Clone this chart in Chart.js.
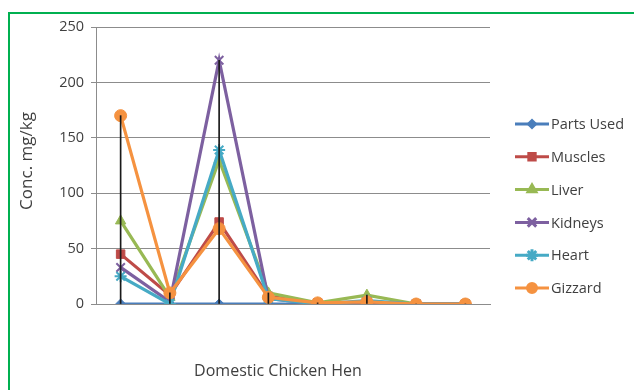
<!DOCTYPE html>
<html>
<head>
<meta charset="utf-8">
<script src="https://cdn.jsdelivr.net/npm/chart.js@4/dist/chart.umd.min.js"></script>
<style>
  html, body { margin: 0; padding: 0; background: #ffffff; }
  #wrap { width: 634px; height: 390px; }
</style>
</head>
<body>
<div id="wrap"><canvas id="c" width="634" height="390"></canvas></div>
<script>
// Sample positions along the hen (x labels are not printed on the axis)
const categories = ['1', '2', '3', '4', '5', '6', '7', '8'];

// Concentration, mg/kg
const partsUsed = [0, 0, 0, 0, 0, 0, 0, 0];
const muscles   = [45, 8, 74, 7, 1, 1, 0, 0];
const liver     = [75, 6, 130, 10, 1, 8, 0, 0];
const kidneys   = [33, 2, 220, 5, 0, 2, 0, 0];
const heart     = [25, 0, 139, 5, 0, 3, 0, 0];
const gizzard   = [170, 10, 68, 6, 1, 2, 0, 0];

const yTicks = [0, 50, 100, 150, 200, 250];

const seriesNames  = ['Parts Used', 'Muscles', 'Liver', 'Kidneys', 'Heart', 'Gizzard'];
const seriesValues = [partsUsed, muscles, liver, kidneys, heart, gizzard];
const seriesColors = ['#4A7EBB', '#BE4B48', '#98B954', '#7D60A0', '#46AAC5', '#F59240'];
const seriesMarks  = ['rectRot', 'rect', 'triangle', 'crossRot', 'star', 'circle'];
const seriesRadius = [5, 6, 6, 6, 6, 6];

// High-low lines: span of all series at each category
const highLow = categories.map((_, i) => {
  const vals = seriesValues.map(s => s[i]);
  return [Math.min(...vals), Math.max(...vals)];
});

const FONT = "'Open Sans', 'DejaVu Sans', sans-serif";
const TEXT = '#3f3f3f';

const strokeOnly = m => m === 'crossRot' || m === 'star';

const datasets = seriesNames.map((name, k) => ({
  type: 'line',
  label: name,
  data: seriesValues[k],
  borderColor: seriesColors[k],
  backgroundColor: seriesColors[k],
  borderWidth: 3.2,
  pointStyle: seriesMarks[k],
  pointRadius: seriesRadius[k],
  pointBorderWidth: strokeOnly(seriesMarks[k]) ? 2 : 1,
  pointBorderColor: seriesColors[k],
  pointBackgroundColor: seriesColors[k],
  tension: 0,
  order: seriesNames.length - k
}));

datasets.push({
  type: 'bar',
  label: 'High-Low',
  data: highLow,
  backgroundColor: '#1a1a1a',
  borderWidth: 0,
  barThickness: 1,
  order: 0
});

const decorations = {
  id: 'decorations',
  beforeDraw(chart) {
    const ctx = chart.ctx;
    ctx.save();
    ctx.fillStyle = '#ffffff';
    ctx.fillRect(0, 0, chart.width, chart.height);
    ctx.restore();
  },
  afterDraw(chart) {
    const ctx = chart.ctx;
    ctx.save();
    // frame
    ctx.strokeStyle = '#00B050';
    ctx.lineWidth = 2;
    ctx.beginPath();
    ctx.moveTo(9, 390);
    ctx.lineTo(9, 13);
    ctx.lineTo(634, 13);
    ctx.stroke();

    // axis titles
    ctx.fillStyle = TEXT;
    ctx.textAlign = 'center';
    ctx.textBaseline = 'middle';
    ctx.font = '16px ' + FONT;
    ctx.fillText('Domestic Chicken Hen', 278, 371);
    ctx.translate(27, 161);
    ctx.rotate(-Math.PI / 2);
    ctx.font = '17px ' + FONT;
    ctx.fillText('Conc. mg/kg', 0, 0);
    ctx.restore();

    // legend
    ctx.save();
    const x0 = 515, x1 = 549, yStart = 124, yStep = 32.8;
    seriesNames.forEach((name, k) => {
      const y = yStart + k * yStep;
      ctx.strokeStyle = seriesColors[k];
      ctx.lineWidth = 3;
      ctx.beginPath();
      ctx.moveTo(x0, y);
      ctx.lineTo(x1, y);
      ctx.stroke();
      ctx.fillStyle = seriesColors[k];
      ctx.strokeStyle = seriesColors[k];
      const m = seriesMarks[k];
      Chart.helpers.drawPoint(ctx, {
        pointStyle: m,
        radius: strokeOnly(m) ? seriesRadius[k] : seriesRadius[k] - 1.5,
        rotation: 0,
        borderWidth: strokeOnly(m) ? 1.6 : 1
      }, (x0 + x1) / 2, y);
      ctx.fillStyle = TEXT;
      ctx.font = '14.5px ' + FONT;
      ctx.textAlign = 'left';
      ctx.textBaseline = 'middle';
      ctx.fillText(name, x1 + 2, y + 1);
    });
    ctx.restore();
  }
};

new Chart(document.getElementById('c'), {
  data: { labels: categories, datasets },
  options: {
    responsive: false,
    animation: false,
    events: [],
    layout: { padding: { left: 0, top: 27, right: 144, bottom: 0 } },
    plugins: {
      legend: { display: false },
      tooltip: { enabled: false },
      title: { display: false }
    },
    scales: {
      x: {
        type: 'category',
        offset: true,
        afterFit(scale) { scale.height = 86; },
        grid: { display: false, drawTicks: false },
        border: { display: true, color: '#8C8C8C', width: 1 },
        ticks: { display: false }
      },
      y: {
        min: 0,
        max: 250,
        afterFit(scale) { scale.width = 96; },
        afterBuildTicks(scale) { scale.ticks = yTicks.map(v => ({ value: v })); },
        grid: { color: '#8C8C8C', lineWidth: 1, tickLength: 5, tickColor: '#8C8C8C' },
        border: { display: true, color: '#8C8C8C', width: 1 },
        ticks: {
          padding: 7,
          color: TEXT,
          font: { family: FONT, size: 14.5 }
        }
      }
    }
  },
  plugins: [decorations]
});
</script>
</body>
</html>
